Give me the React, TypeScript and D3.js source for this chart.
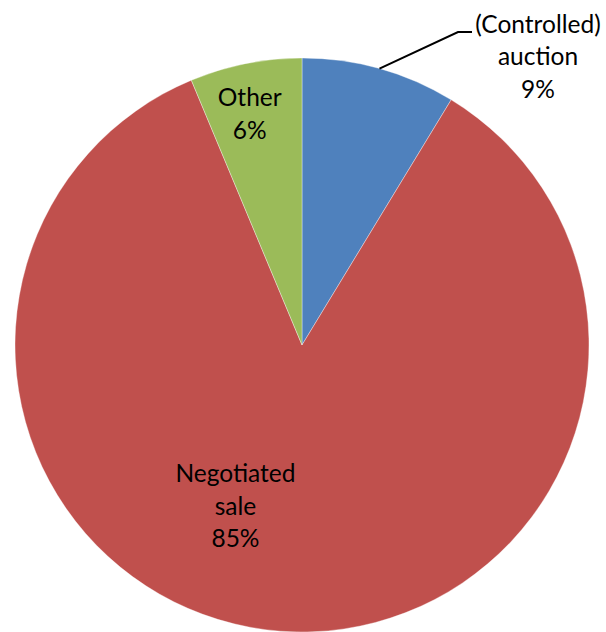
import React from "react";
import * as d3 from "d3";

const categories = ["(Controlled) auction", "Negotiated sale", "Other"];
const labelLines = [["(Controlled)", "auction"], ["Negotiated", "sale"], ["Other"]];
const values = [0.087, 0.85, 0.063];
const colors = ["#4F81BD", "#C0504D", "#9BBB59"];

const W = 606;
const H = 632;
const cx = 302;
const cy = 345;
const R = 287;
const FONT = "Lato, 'Open Sans', sans-serif";
const FS = 24.5;
const LH = 32.5;

export default function App() {
  const pie = d3.pie<number>().sort(null).value((d) => d)(values);
  const arc = d3.arc<d3.PieArcDatum<number>>().innerRadius(0).outerRadius(R);
  const fmt = d3.format(".0%");

  const labelPos = (i: number) => {
    const a = pie[i];
    const mid = (a.startAngle + a.endAngle) / 2;
    if (i === 0) {
      return { x: cx + 236, y: cy - 288 };
    }
    if (i === 1) {
      const r = R * 0.58;
      return { x: cx + Math.sin(mid) * r - 54, y: cy - Math.cos(mid) * r - 4 };
    }
    const r = R * 0.82;
    return { x: cx + Math.sin(mid) * r - 6, y: cy - Math.cos(mid) * r };
  };

  const a0 = pie[0];
  const mid0 = (a0.startAngle + a0.endAngle) / 2;
  const edgeX = cx + Math.sin(mid0) * R;
  const edgeY = cy - Math.cos(mid0) * R;

  return (
    <svg
      width={W}
      height={H}
      style={{ position: "absolute", left: 0, top: 0, background: "#fff" }}
    >
      <g transform={`translate(${cx},${cy})`}>
        {pie.map((p, i) => (
          <path key={categories[i]} d={arc(p) || ""} fill={colors[i]} stroke="#ffffff" strokeWidth={0.6} strokeOpacity={0.6} />
        ))}
      </g>
      <polyline
        points={`${edgeX},${edgeY} ${cx + 156},${cy - 313} ${cx + 170},${cy - 313}`}
        fill="none"
        stroke="#000"
        strokeWidth={2}
      />
      {pie.map((p, i) => {
        const lines = [...labelLines[i], fmt(values[i])];
        const pos = labelPos(i);
        const n = lines.length;
        return (
          <text
            key={"l" + i}
            x={pos.x}
            y={pos.y}
            textAnchor="middle"
            fontFamily={FONT}
            fontSize={FS}
            fill="#000"
          >
            {lines.map((t, j) => (
              <tspan key={j} x={pos.x} y={pos.y + (j - (n - 1) / 2) * LH + 8}>
                {t}
              </tspan>
            ))}
          </text>
        );
      })}
    </svg>
  );
}
